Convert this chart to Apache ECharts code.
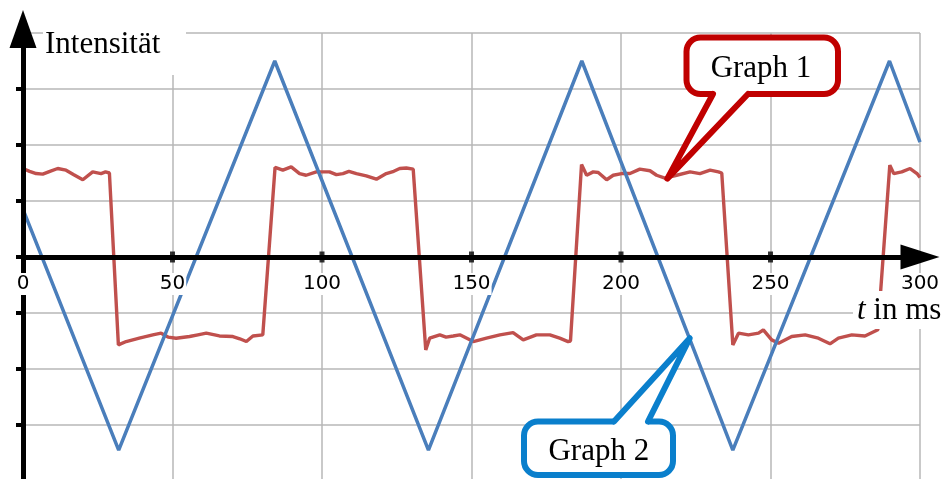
<!DOCTYPE html>
<html><head><meta charset="utf-8">
<script src="https://cdn.jsdelivr.net/npm/echarts@6/dist/echarts.min.js"></script>
<style>html,body{margin:0;padding:0;background:#fff}#c{width:946px;height:479px}</style>
</head><body><div id="c"></div>
<script>
// ---- data ----
const xMin = 0, xMax = 300, xStep = 50;
const yMin = -4, yMax = 4, yStep = 1;
const tickMarksT = [50, 100, 150, 200, 250];

// Graph 1 (red, noisy square wave)
const graph1T = [0,2.2,4.4,6.6,9,11.6,14.4,17,20,23.3,26.1,27.6,28.9,
  31.9,34.5,38.9,43.4,46.2,48.5,51.2,55.7,58.5,61.3,65.7,70.2,72.5,74.7,76.9,80.2,80.8,
  84.3,86.9,89.7,92.5,94.7,98.1,102.5,104.8,107,109,111.5,114.8,118.2,121.5,124,126,128.2,130.5,130.9,
  134.7,136,139.4,141.5,143.9,146.1,150.6,155,159.5,163.9,167.3,171.7,176.2,179.5,182.3,183.1,
  186.8,188.5,190.7,192.4,195.2,197.4,200.2,203,206.3,209.7,211.9,214.7,218.6,223.1,226.4,229.8,232.6,233.7,
  237.4,239.3,242.6,246,247.6,250.4,252.7,257.1,261.6,266,269.9,272.7,277.2,281.6,285.9,286.4,
  289.9,291.2,293.9,296.7,299,300];
const graph1V = [1.58,1.53,1.49,1.48,1.53,1.58,1.55,1.47,1.38,1.52,1.49,1.52,1.50,
  -1.57,-1.51,-1.45,-1.39,-1.36,-1.43,-1.45,-1.42,-1.39,-1.36,-1.41,-1.42,-1.46,-1.51,-1.41,-1.39,-1.40,
  1.60,1.55,1.61,1.49,1.46,1.52,1.52,1.47,1.49,1.53,1.49,1.45,1.39,1.49,1.53,1.58,1.59,1.57,1.56,
  -1.66,-1.45,-1.39,-1.43,-1.41,-1.39,-1.51,-1.45,-1.39,-1.35,-1.48,-1.39,-1.39,-1.45,-1.51,-1.50,
  1.65,1.46,1.52,1.51,1.38,1.46,1.49,1.49,1.57,1.54,1.46,1.41,1.46,1.52,1.49,1.55,1.52,1.50,
  -1.57,-1.36,-1.39,-1.36,-1.30,-1.48,-1.54,-1.42,-1.39,-1.45,-1.55,-1.45,-1.39,-1.41,-1.30,-1.32,
  1.64,1.49,1.52,1.58,1.49,1.42];

// Graph 2 (blue, triangle wave)
const graph2T = [0, 32, 84.2, 135.6, 186.9, 237.4, 289.8, 300];
const graph2V = [0.85, -3.45, 3.5, -3.45, 3.5, -3.45, 3.5, 2.05];

// annotation anchors (data coordinates)
const callout1Anchor = [215.5, 1.40];
const callout2Anchor = [223, -1.45];
const labels = { yName: 'Intensität', xName: 't in ms', c1: 'Graph 1', c2: 'Graph 2' };

// ---- chart ----
const chart = echarts.init(document.getElementById('c'), null, {renderer: 'canvas'});
const zip = (a, b) => a.map((v, i) => [v, b[i]]);
const gridBox = {left: 23, top: 33, width: 897, height: 448, outerBoundsMode: 'none', containLabel: false};
const serif = '"Liberation Serif", "Times New Roman", serif';
const zeroOffset = -gridBox.height * (0 - yMin) / (yMax - yMin);

const option = {
  animation: false,
  grid: [Object.assign({}, gridBox), Object.assign({}, gridBox)],
  xAxis: [
    {gridIndex: 0, type: 'value', min: xMin, max: xMax, interval: xStep,
      axisLine: {show: false}, axisTick: {show: false}, axisLabel: {show: false},
      splitLine: {show: true, lineStyle: {color: '#b7b7b7', width: 1.5}}, z: 0},
    {gridIndex: 1, type: 'value', min: xMin, max: xMax, interval: xStep,
      position: 'bottom', offset: zeroOffset,
      axisLine: {show: true, onZero: false, symbol: ['none', 'triangle'], symbolSize: [25, 39],
        lineStyle: {color: '#000', width: 5}},
      axisTick: {show: false},
      axisLabel: {show: true, margin: 16, fontFamily: 'DejaVu Sans', fontSize: 20, color: '#000',
        backgroundColor: '#fff', padding: [1, 1], showMinLabel: true, showMaxLabel: true},
      splitLine: {show: false}, z: 6}
  ],
  yAxis: [
    {gridIndex: 0, type: 'value', min: yMin, max: yMax, interval: yStep,
      axisLine: {show: false}, axisTick: {show: false}, axisLabel: {show: false},
      splitLine: {show: true, lineStyle: {color: '#b7b7b7', width: 1.5}}, z: 0},
    {gridIndex: 1, type: 'value', min: yMin, max: yMax, interval: yStep,
      axisLine: {show: true, onZero: false, symbol: ['none', 'triangle'], symbolSize: [27, 38], symbolOffset: [0, 4],
        lineStyle: {color: '#000', width: 5}},
      axisTick: {show: true, length: 7, lineStyle: {color: '#000', width: 4}},
      axisLabel: {show: false}, splitLine: {show: false}, z: 5}
  ],
  series: [
    {name: 'Graph 1', type: 'line', xAxisIndex: 0, yAxisIndex: 0, data: zip(graph1T, graph1V),
      showSymbol: false, symbol: 'none', lineStyle: {color: '#C0504D', width: 3.4}, z: 2},
    {name: 'Graph 2', type: 'line', xAxisIndex: 0, yAxisIndex: 0, data: zip(graph2T, graph2V),
      showSymbol: false, symbol: 'none', lineStyle: {color: '#4A7EBB', width: 3.5}, z: 3},
    {name: 'ticks', type: 'scatter', xAxisIndex: 0, yAxisIndex: 0,
      data: tickMarksT.map(t => [t, 0]), symbol: 'rect', symbolSize: [5, 11],
      itemStyle: {color: '#000'}, z: 8, silent: true}
  ]
};
chart.setOption(option);

function callout(box, side, b1, b2, tip, color, text, textPos) {
  const [x0, y0, x1, y1] = box;
  const yb = side === 'bottom' ? y1 : y0;
  const inward = side === 'bottom' ? -3.5 : 3.5;
  return [
    {type: 'rect', z: 12, shape: {x: x0, y: y0, width: x1 - x0, height: y1 - y0, r: 14},
      style: {fill: '#fff', stroke: color, lineWidth: 6}},
    {type: 'polygon', z: 13, shape: {points: [[b1, yb + inward], [b1, yb], tip, [b2, yb], [b2, yb + inward]]},
      style: {fill: '#fff'}},
    {type: 'polyline', z: 14, shape: {points: [[b1, yb], tip, [b2, yb]]},
      style: {stroke: color, lineWidth: 6, lineJoin: 'round', lineCap: 'round', fill: null}},
    {type: 'text', x: textPos[0], y: textPos[1], z: 15,
      style: {text: text, fontFamily: serif, fontSize: 31, fill: '#000', align: 'center', verticalAlign: 'middle'}}
  ];
}

const p1 = chart.convertToPixel({gridIndex: 0}, callout1Anchor);
const p2 = chart.convertToPixel({gridIndex: 0}, callout2Anchor);

chart.setOption({
  graphic: [
    {type: 'rect', shape: {x: 43, y: 12, width: 143, height: 63}, style: {fill: '#fff'}, z: 10},
    {type: 'text', x: 45, y: 44.5, z: 11,
      style: {text: labels.yName, fontFamily: serif, fontSize: 31, fill: '#000', align: 'left', verticalAlign: 'middle'}},
    {type: 'rect', shape: {x: 853, y: 291, width: 93, height: 38}, style: {fill: '#fff'}, z: 10},
    {type: 'text', x: 857, y: 311, z: 11,
      style: {text: '{i|t} in ms', fontFamily: serif, fontSize: 31, fill: '#000', align: 'left', verticalAlign: 'middle',
        rich: {i: {fontStyle: 'italic', fontFamily: serif, fontSize: 31, fill: '#000'}}}}
  ].concat(
    callout([686.5, 37.5, 838, 94], 'bottom', 713, 748, p1, '#C00000', labels.c1, [761, 68.8]),
    callout([524, 421.5, 673, 475], 'top', 614, 648, p2, '#0A7FCC', labels.c2, [598.8, 452])
  )
});
</script></body></html>
